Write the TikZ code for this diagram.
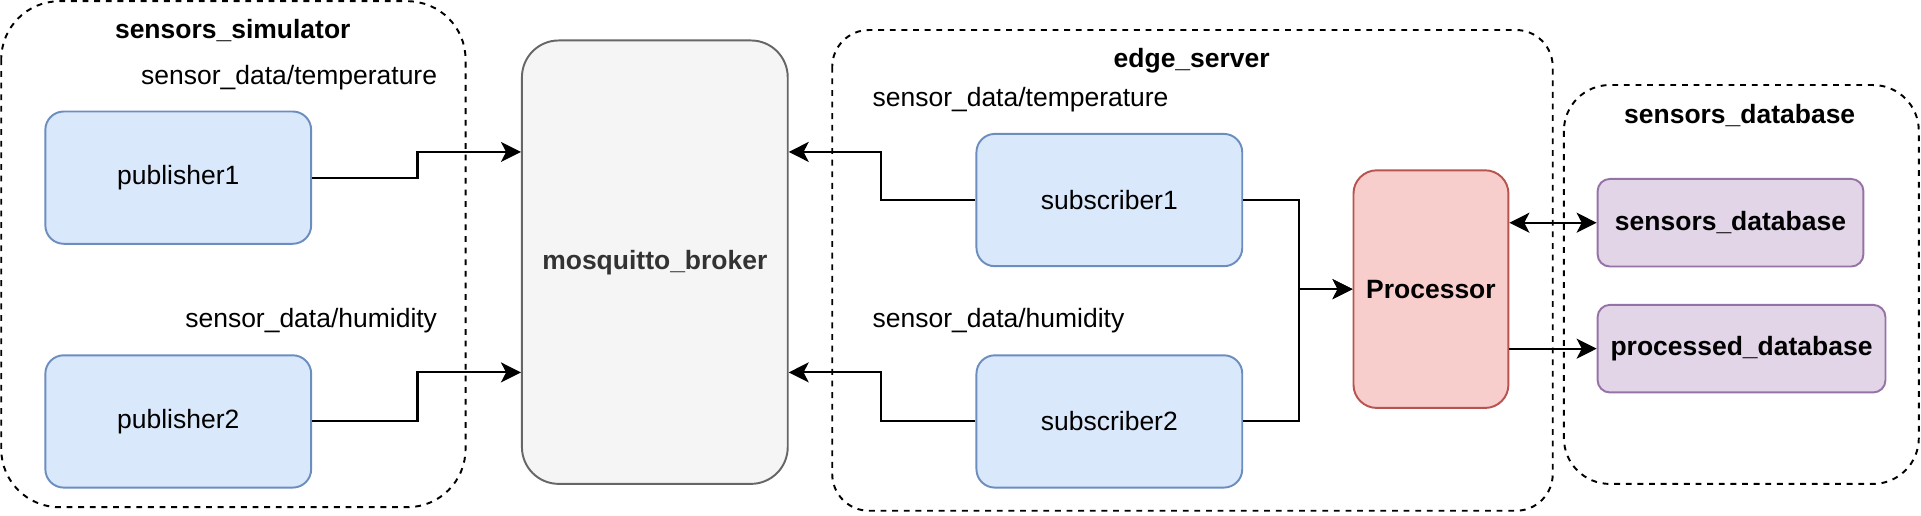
\documentclass[tikz,border=0pt]{standalone}
\usepackage{fontspec}
\setmainfont{Liberation Sans}
\usetikzlibrary{arrows.meta}

\definecolor{blueFill}{HTML}{DAE8FC}
\definecolor{blueLine}{HTML}{6C8EBF}
\definecolor{greyFill}{HTML}{F5F5F5}
\definecolor{greyLine}{HTML}{666666}
\definecolor{greyText}{HTML}{333333}
\definecolor{redFill}{HTML}{F8CECC}
\definecolor{redLine}{HTML}{B85450}
\definecolor{violetFill}{HTML}{E1D5E7}
\definecolor{violetLine}{HTML}{9673A6}

\tikzset{
	box/.style={draw, line width=0.9pt, inner sep=0pt,
		font=\fontsize{12.3}{14.8}\selectfont},
	client/.style={box, fill=blueFill, draw=blueLine, rounded corners=0.3cm,
		minimum width=4.34cm, minimum height=2.16cm},
	dbbox/.style={box, fill=violetFill, draw=violetLine, rounded corners=0.2cm,
		minimum height=1.43cm, font=\fontsize{12.3}{14.8}\selectfont\bfseries},
	group/.style={draw, line width=0.9pt, dash pattern=on 2.7pt off 2.7pt},
	topic/.style={inner sep=0pt, font=\fontsize{12.3}{14.8}\selectfont},
	grouptitle/.style={inner sep=0pt, font=\fontsize{12.3}{14.8}\selectfont\bfseries},
	link/.style={line width=0.95pt, -{Stealth[length=9.3pt,width=9.3pt,inset=2.4pt]}},
}

\begin{document}
\begin{tikzpicture}[x=0.02cm, y=-0.02cm]
	\useasboundingbox (0,0) rectangle (1568,420.4);
	% Gruppen
	\draw[group, rounded corners=0.95cm] (1,1) rectangle (380,414);
	\draw[group, rounded corners=0.6cm] (679.3,24.5) rectangle (1267.4,416.9);
	\draw[group, rounded corners=0.75cm] (1276.5,69.4) rectangle (1566.2,395);
	\node[grouptitle] (simTitle) at (190,25) {sensors\_simulator};
	\node[grouptitle] (edgeTitle) at (972.7,49.8) {edge\_server};
	\node[grouptitle] (dbTitle) at (1420,94) {sensors\_database};

	% Topics
	\node[topic] (pubTemp) at (236,63) {sensor\_data/temperature};
	\node[topic] (pubHum) at (254,262) {sensor\_data/humidity};
	\node[topic] (subTemp) at (833,81.6) {sensor\_data/temperature};
	\node[topic] (subHum) at (815,262) {sensor\_data/humidity};

	% Knoten
	\node[client] (pub1) at (145.5,145) {publisher1};
	\node[client] (pub2) at (145.5,344) {publisher2};
	\node[box, fill=greyFill, draw=greyLine, text=greyText, rounded corners=0.6cm,
		minimum width=4.34cm, minimum height=7.24cm,
		font=\fontsize{12.3}{14.8}\selectfont\bfseries] (broker) at (534.5,214)
		{mosquitto\_broker};
	\node[client] (sub1) at (905.5,163.3) {subscriber1};
	\node[client] (sub2) at (905.5,344) {subscriber2};
	\node[box, fill=redFill, draw=redLine, rounded corners=0.38cm,
		minimum width=2.53cm, minimum height=3.88cm,
		font=\fontsize{12.3}{14.8}\selectfont\bfseries] (proc) at (1168,236)
		{Processor};
	\node[dbbox, minimum width=4.34cm] (sdb) at (1412.5,181.8) {sensors\_database};
	\node[dbbox, minimum width=4.7cm] (pdb) at (1421.5,284.6) {processed\_database};

	% Verbindungen
	\draw[link] (pub1.east) -- ++(86,0) |- ([yshift=1.8cm]broker.west);
	\draw[link] (pub2.east) -- ++(86,0) |- ([yshift=-1.8cm]broker.west);
	\draw[link] (sub1.west) -- ++(-77,0) |- ([yshift=1.8cm]broker.east);
	\draw[link] (sub2.west) -- ++(-77,0) |- ([yshift=-1.8cm]broker.east);
	\draw[link] (sub1.east) -- ++(45.5,0) |- (proc.west);
	\draw[link] (sub2.east) -- ++(45.5,0) |- (proc.west);
	\draw[link, {Stealth[length=9.3pt,width=9.3pt,inset=2.4pt]}-{Stealth[length=9.3pt,width=9.3pt,inset=2.4pt]}]
		(proc.east |- sdb.west) -- (sdb.west);
	\draw[link] (proc.east |- pdb.west) -- (pdb.west);
\end{tikzpicture}
\end{document}
